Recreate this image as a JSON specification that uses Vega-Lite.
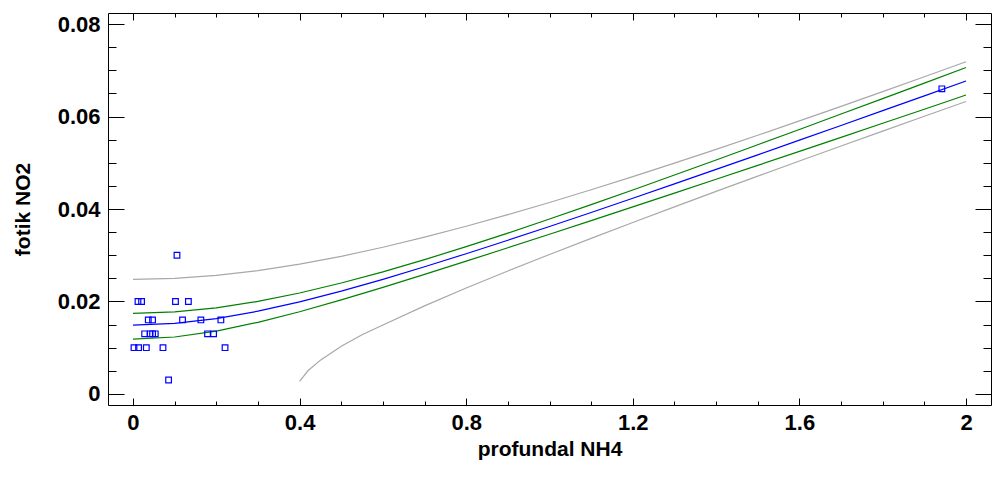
{
  "$schema": "https://vega.github.io/schema/vega-lite/v6.json",
  "width": 883,
  "height": 392,
  "autosize": {"type": "none"},
  "padding": {"left": 108, "top": 13, "right": 2, "bottom": 74},
  "background": "#ffffff",
  "config": {
    "view": {"stroke": "#000000", "strokeWidth": 1},
    "axis": {
      "grid": false,
      "domain": false,
      "tickColor": "#000000",
      "tickWidth": 1,
      "labelFont": "Liberation Sans",
      "labelFontWeight": "bold",
      "labelFontSize": 22,
      "labelColor": "#000000",
      "labelFlush": false,
      "labelOverlap": false,
      "labelBound": false,
      "titleFont": "Liberation Sans",
      "titleFontWeight": "bold",
      "titleFontSize": 21,
      "titleColor": "#000000"
    }
  },
  "datasets": {
    "curves": [
      {"x": 0, "y": 0.0149, "s": "fit"},
      {"x": 0.1, "y": 0.01526, "s": "fit"},
      {"x": 0.2, "y": 0.0163, "s": "fit"},
      {"x": 0.3, "y": 0.01789, "s": "fit"},
      {"x": 0.4, "y": 0.01991, "s": "fit"},
      {"x": 0.5, "y": 0.02224, "s": "fit"},
      {"x": 0.6, "y": 0.02479, "s": "fit"},
      {"x": 0.7, "y": 0.0275, "s": "fit"},
      {"x": 0.8, "y": 0.03033, "s": "fit"},
      {"x": 0.9, "y": 0.03324, "s": "fit"},
      {"x": 1.0, "y": 0.03622, "s": "fit"},
      {"x": 1.1, "y": 0.03925, "s": "fit"},
      {"x": 1.2, "y": 0.04233, "s": "fit"},
      {"x": 1.3, "y": 0.04543, "s": "fit"},
      {"x": 1.4, "y": 0.04856, "s": "fit"},
      {"x": 1.5, "y": 0.05172, "s": "fit"},
      {"x": 1.6, "y": 0.05489, "s": "fit"},
      {"x": 1.7, "y": 0.05807, "s": "fit"},
      {"x": 1.8, "y": 0.06127, "s": "fit"},
      {"x": 1.9, "y": 0.06447, "s": "fit"},
      {"x": 2.0, "y": 0.06769, "s": "fit"},
      {"x": 0, "y": 0.01742, "s": "ci_hi"},
      {"x": 0.1, "y": 0.01773, "s": "ci_hi"},
      {"x": 0.2, "y": 0.01861, "s": "ci_hi"},
      {"x": 0.3, "y": 0.02001, "s": "ci_hi"},
      {"x": 0.4, "y": 0.02183, "s": "ci_hi"},
      {"x": 0.5, "y": 0.02399, "s": "ci_hi"},
      {"x": 0.6, "y": 0.02641, "s": "ci_hi"},
      {"x": 0.7, "y": 0.02905, "s": "ci_hi"},
      {"x": 0.8, "y": 0.03185, "s": "ci_hi"},
      {"x": 0.9, "y": 0.03479, "s": "ci_hi"},
      {"x": 1.0, "y": 0.03783, "s": "ci_hi"},
      {"x": 1.1, "y": 0.04095, "s": "ci_hi"},
      {"x": 1.2, "y": 0.04412, "s": "ci_hi"},
      {"x": 1.3, "y": 0.04735, "s": "ci_hi"},
      {"x": 1.4, "y": 0.05061, "s": "ci_hi"},
      {"x": 1.5, "y": 0.0539, "s": "ci_hi"},
      {"x": 1.6, "y": 0.05721, "s": "ci_hi"},
      {"x": 1.7, "y": 0.06054, "s": "ci_hi"},
      {"x": 1.8, "y": 0.06388, "s": "ci_hi"},
      {"x": 1.9, "y": 0.06724, "s": "ci_hi"},
      {"x": 2.0, "y": 0.07061, "s": "ci_hi"},
      {"x": 0, "y": 0.01186, "s": "ci_lo"},
      {"x": 0.1, "y": 0.01231, "s": "ci_lo"},
      {"x": 0.2, "y": 0.01359, "s": "ci_lo"},
      {"x": 0.3, "y": 0.01549, "s": "ci_lo"},
      {"x": 0.4, "y": 0.01778, "s": "ci_lo"},
      {"x": 0.5, "y": 0.02034, "s": "ci_lo"},
      {"x": 0.6, "y": 0.02305, "s": "ci_lo"},
      {"x": 0.7, "y": 0.02585, "s": "ci_lo"},
      {"x": 0.8, "y": 0.02871, "s": "ci_lo"},
      {"x": 0.9, "y": 0.03161, "s": "ci_lo"},
      {"x": 1.0, "y": 0.03454, "s": "ci_lo"},
      {"x": 1.1, "y": 0.03749, "s": "ci_lo"},
      {"x": 1.2, "y": 0.04045, "s": "ci_lo"},
      {"x": 1.3, "y": 0.04343, "s": "ci_lo"},
      {"x": 1.4, "y": 0.04643, "s": "ci_lo"},
      {"x": 1.5, "y": 0.04944, "s": "ci_lo"},
      {"x": 1.6, "y": 0.05246, "s": "ci_lo"},
      {"x": 1.7, "y": 0.05549, "s": "ci_lo"},
      {"x": 1.8, "y": 0.05854, "s": "ci_lo"},
      {"x": 1.9, "y": 0.06159, "s": "ci_lo"},
      {"x": 2.0, "y": 0.06465, "s": "ci_lo"},
      {"x": 0, "y": 0.02477, "s": "pi_hi"},
      {"x": 0.1, "y": 0.02499, "s": "pi_hi"},
      {"x": 0.2, "y": 0.02563, "s": "pi_hi"},
      {"x": 0.3, "y": 0.02667, "s": "pi_hi"},
      {"x": 0.4, "y": 0.02806, "s": "pi_hi"},
      {"x": 0.5, "y": 0.02976, "s": "pi_hi"},
      {"x": 0.6, "y": 0.03172, "s": "pi_hi"},
      {"x": 0.7, "y": 0.0339, "s": "pi_hi"},
      {"x": 0.8, "y": 0.03626, "s": "pi_hi"},
      {"x": 0.9, "y": 0.03877, "s": "pi_hi"},
      {"x": 1.0, "y": 0.04141, "s": "pi_hi"},
      {"x": 1.1, "y": 0.04416, "s": "pi_hi"},
      {"x": 1.2, "y": 0.047, "s": "pi_hi"},
      {"x": 1.3, "y": 0.04991, "s": "pi_hi"},
      {"x": 1.4, "y": 0.0529, "s": "pi_hi"},
      {"x": 1.5, "y": 0.05595, "s": "pi_hi"},
      {"x": 1.6, "y": 0.05905, "s": "pi_hi"},
      {"x": 1.7, "y": 0.0622, "s": "pi_hi"},
      {"x": 1.8, "y": 0.06538, "s": "pi_hi"},
      {"x": 1.9, "y": 0.0686, "s": "pi_hi"},
      {"x": 2.0, "y": 0.07185, "s": "pi_hi"},
      {"x": 0.4, "y": 0.0027, "s": "pi_lo"},
      {"x": 0.42, "y": 0.005, "s": "pi_lo"},
      {"x": 0.45, "y": 0.0073, "s": "pi_lo"},
      {"x": 0.5, "y": 0.0103, "s": "pi_lo"},
      {"x": 0.55, "y": 0.0128, "s": "pi_lo"},
      {"x": 0.6, "y": 0.01492, "s": "pi_lo"},
      {"x": 0.7, "y": 0.01905, "s": "pi_lo"},
      {"x": 0.8, "y": 0.0229, "s": "pi_lo"},
      {"x": 0.9, "y": 0.02658, "s": "pi_lo"},
      {"x": 1.0, "y": 0.03015, "s": "pi_lo"},
      {"x": 1.1, "y": 0.03365, "s": "pi_lo"},
      {"x": 1.2, "y": 0.03708, "s": "pi_lo"},
      {"x": 1.3, "y": 0.04046, "s": "pi_lo"},
      {"x": 1.4, "y": 0.0438, "s": "pi_lo"},
      {"x": 1.5, "y": 0.0471, "s": "pi_lo"},
      {"x": 1.6, "y": 0.05038, "s": "pi_lo"},
      {"x": 1.7, "y": 0.05363, "s": "pi_lo"},
      {"x": 1.8, "y": 0.05685, "s": "pi_lo"},
      {"x": 1.9, "y": 0.06006, "s": "pi_lo"},
      {"x": 2.0, "y": 0.06326, "s": "pi_lo"}
    ],
    "points": [
      {"x": 0.1056, "y": 0.03},
      {"x": 0.012, "y": 0.02},
      {"x": 0.0206, "y": 0.02},
      {"x": 0.102, "y": 0.02},
      {"x": 0.133, "y": 0.02},
      {"x": 0.0367, "y": 0.016},
      {"x": 0.047, "y": 0.016},
      {"x": 0.119, "y": 0.016},
      {"x": 0.163, "y": 0.016},
      {"x": 0.211, "y": 0.016},
      {"x": 0.028, "y": 0.013},
      {"x": 0.041, "y": 0.013},
      {"x": 0.047, "y": 0.013},
      {"x": 0.0535, "y": 0.013},
      {"x": 0.179, "y": 0.013},
      {"x": 0.1935, "y": 0.013},
      {"x": 0.0024, "y": 0.01},
      {"x": 0.0134, "y": 0.01},
      {"x": 0.032, "y": 0.01},
      {"x": 0.072, "y": 0.01},
      {"x": 0.221, "y": 0.01},
      {"x": 0.0855, "y": 0.003},
      {"x": 1.942, "y": 0.066}
    ]
  },
  "resolve": {"axis": {"x": "independent", "y": "independent"}},
  "layer": [
    {
      "data": {"name": "curves"},
      "transform": [{"filter": {"field": "s", "oneOf": ["pi_hi", "pi_lo"]}}],
      "mark": {"type": "line", "color": "#a8a8a8", "strokeWidth": 1.2},
      "encoding": {
        "x": {
          "field": "x", "type": "quantitative",
          "scale": {"domain": [-0.06, 2.06], "nice": false, "zero": false},
          "axis": {"orient": "bottom", "values": [0, 0.4, 0.8, 1.2, 1.6, 2], "tickSize": -7, "labelPadding": 14, "format": "~g", "title": "profundal NH4", "titlePadding": 5}
        },
        "y": {
          "field": "y", "type": "quantitative",
          "scale": {"domain": [-0.0024, 0.0824], "nice": false, "zero": false},
          "axis": {"orient": "left", "values": [0, 0.02, 0.04, 0.06, 0.08], "tickSize": -16, "labelPadding": 24, "format": "~g", "title": "fotik NO2", "titlePadding": 24}
        },
        "detail": {"field": "s"}
      }
    },
    {
      "data": {"name": "curves"},
      "transform": [{"filter": {"field": "s", "oneOf": ["ci_hi", "ci_lo"]}}],
      "mark": {"type": "line", "color": "#008000", "strokeWidth": 1.2},
      "encoding": {
        "x": {
          "field": "x", "type": "quantitative",
          "scale": {"domain": [-0.06, 2.06], "nice": false, "zero": false},
          "axis": {"orient": "bottom", "values": [0.1, 0.2, 0.3, 0.5, 0.6, 0.7, 0.9, 1.0, 1.1, 1.3, 1.4, 1.5, 1.7, 1.8, 1.9], "tickSize": -4, "labels": false, "title": null}
        },
        "y": {
          "field": "y", "type": "quantitative",
          "scale": {"domain": [-0.0024, 0.0824], "nice": false, "zero": false},
          "axis": {"orient": "left", "values": [0.005, 0.01, 0.015, 0.025, 0.03, 0.035, 0.045, 0.05, 0.055, 0.065, 0.07, 0.075], "tickSize": -8, "labels": false, "title": null}
        },
        "detail": {"field": "s"}
      }
    },
    {
      "data": {"name": "curves"},
      "transform": [{"filter": {"field": "s", "equal": "fit"}}],
      "mark": {"type": "line", "color": "#0000ff", "strokeWidth": 1.2},
      "encoding": {
        "x": {
          "field": "x", "type": "quantitative",
          "scale": {"domain": [-0.06, 2.06], "nice": false, "zero": false},
          "axis": {"orient": "top", "values": [0, 0.4, 0.8, 1.2, 1.6, 2], "tickSize": -7, "labels": false, "title": null}
        },
        "y": {
          "field": "y", "type": "quantitative",
          "scale": {"domain": [-0.0024, 0.0824], "nice": false, "zero": false},
          "axis": {"orient": "right", "values": [0, 0.02, 0.04, 0.06, 0.08], "tickSize": -16, "labels": false, "title": null}
        }
      }
    },
    {
      "data": {"name": "points"},
      "mark": {"type": "point", "shape": "square", "filled": false, "color": "#0000ff", "size": 32, "strokeWidth": 1.2, "opacity": 1},
      "encoding": {
        "x": {
          "field": "x", "type": "quantitative",
          "scale": {"domain": [-0.06, 2.06], "nice": false, "zero": false},
          "axis": {"orient": "top", "values": [0.1, 0.2, 0.3, 0.5, 0.6, 0.7, 0.9, 1.0, 1.1, 1.3, 1.4, 1.5, 1.7, 1.8, 1.9], "tickSize": -4, "labels": false, "title": null}
        },
        "y": {
          "field": "y", "type": "quantitative",
          "scale": {"domain": [-0.0024, 0.0824], "nice": false, "zero": false},
          "axis": {"orient": "right", "values": [0.005, 0.01, 0.015, 0.025, 0.03, 0.035, 0.045, 0.05, 0.055, 0.065, 0.07, 0.075], "tickSize": -8, "labels": false, "title": null}
        }
      }
    }
  ]
}
